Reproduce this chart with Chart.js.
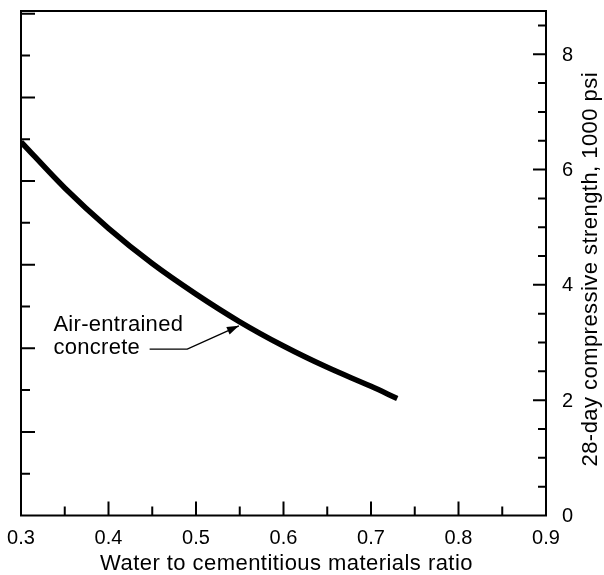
<!DOCTYPE html>
<html>
<head>
<meta charset="utf-8">
<script src="https://cdn.jsdelivr.net/npm/chart.js@4.4.1/dist/chart.umd.min.js"></script>
<style>
  html, body { margin: 0; padding: 0; background: #fff; }
  #wrap { width: 604px; height: 575px; }
</style>
</head>
<body>
<div id="wrap"><canvas id="chart"></canvas></div>
<script>
// curve (1000 psi)
const ratios = [0.30, 0.35, 0.40, 0.45, 0.50, 0.55, 0.60, 0.65, 0.70, 0.73];
const strength = [6.48, 5.68, 4.98, 4.37, 3.84, 3.36, 2.94, 2.57, 2.24, 2.03];

const xTicks = [0.3, 0.4, 0.5, 0.6, 0.7, 0.8, 0.9];
const yTicks = [0, 2, 4, 6, 8];

const xTitle = "Water to cementitious materials ratio";
const yTitle = "28-day compressive strength, 1000 psi";
const labelLines = ["Air-entrained", "concrete"];
// label anchor and leader line, in data units
const labelAt = [0.337, 3.30];
const leader = [[0.447, 2.885], [0.490, 2.885], [0.549, 3.29]];

const PSI_PER_MPA = 1 / 6.895;
const FONT = '"Liberation Sans", Arial, Helvetica, sans-serif';

const noPad = s => { s.paddingTop = 0; s.paddingBottom = 0; s.paddingLeft = 0; s.paddingRight = 0; };

const extras = {
  id: "extras",
  afterDraw(chart) {
    const { ctx, chartArea: a } = chart;
    const x = chart.scales.x, y = chart.scales.y;
    ctx.save();
    ctx.strokeStyle = "#000";
    ctx.fillStyle = "#000";
    ctx.lineWidth = 2;
    ctx.strokeRect(a.left, a.top, a.right - a.left, a.bottom - a.top);

    ctx.beginPath();
    // bottom ticks, every 0.05
    for (let i = 1; i < 12; i++) {
      const px = x.getPixelForValue(0.3 + i * 0.05);
      const len = i % 2 ? 9 : 14;
      ctx.moveTo(px, a.bottom);
      ctx.lineTo(px, a.bottom - len);
    }
    // right ticks, every 0.5
    for (let i = 1; i * 0.5 <= y.max; i++) {
      const py = y.getPixelForValue(i * 0.5);
      const len = i % 4 === 0 ? 13 : 8;
      ctx.moveTo(a.right, py);
      ctx.lineTo(a.right - len, py);
    }
    // left ticks in MPa, every 5
    for (let m = 5; m * PSI_PER_MPA <= y.max; m += 5) {
      const py = y.getPixelForValue(m * PSI_PER_MPA);
      const len = m % 10 === 0 ? 14 : 9;
      ctx.moveTo(a.left, py);
      ctx.lineTo(a.left + len, py);
    }
    ctx.stroke();

    // right tick labels
    ctx.font = "20px " + FONT;
    ctx.textAlign = "left";
    ctx.textBaseline = "middle";
    yTicks.forEach(v => ctx.fillText(String(v), a.right + 16, y.getPixelForValue(v) + 1));

    // label + leader
    ctx.font = "22px " + FONT;
    ctx.letterSpacing = "0.3px";
    const lx = x.getPixelForValue(labelAt[0]);
    const ly = y.getPixelForValue(labelAt[1]);
    labelLines.forEach((t, i) => ctx.fillText(t, lx, ly + i * 23));

    const pts = leader.map(p => [x.getPixelForValue(p[0]), y.getPixelForValue(p[1])]);
    ctx.lineWidth = 1.4;
    ctx.beginPath();
    ctx.moveTo(pts[0][0], pts[0][1]);
    for (let i = 1; i < pts.length; i++) ctx.lineTo(pts[i][0], pts[i][1]);
    ctx.stroke();
    const [tx, ty] = pts[pts.length - 1];
    const [fx, fy] = pts[pts.length - 2];
    const ang = Math.atan2(ty - fy, tx - fx);
    ctx.beginPath();
    ctx.moveTo(tx, ty);
    ctx.lineTo(tx - 12 * Math.cos(ang) + 4 * Math.sin(ang), ty - 12 * Math.sin(ang) - 4 * Math.cos(ang));
    ctx.lineTo(tx - 12 * Math.cos(ang) - 4 * Math.sin(ang), ty - 12 * Math.sin(ang) + 4 * Math.cos(ang));
    ctx.closePath();
    ctx.fill();

    // axis titles
    ctx.font = "22px " + FONT;
    ctx.letterSpacing = "0.45px";
    ctx.textAlign = "center";
    ctx.fillText(xTitle, (a.left + a.right) / 2 + 3, 564);
    ctx.translate(chart.width - 13, (a.top + a.bottom) / 2 + 6);
    ctx.rotate(-Math.PI / 2);
    ctx.fillText(yTitle, 0, 0);
    ctx.restore();
  }
};

new Chart(document.getElementById("chart"), {
  type: "line",
  data: {
    datasets: [{
      data: ratios.map((r, i) => ({ x: r, y: strength[i] })),
      borderColor: "#000",
      borderWidth: 5.5,
      pointRadius: 0,
      cubicInterpolationMode: "monotone",
      borderCapStyle: "butt"
    }]
  },
  options: {
    responsive: true,
    maintainAspectRatio: false,
    animation: false,
    layout: { padding: { top: 11, left: 21, right: 0, bottom: 0 } },
    plugins: { legend: { display: false }, tooltip: { enabled: false } },
    scales: {
      x: {
        type: "linear",
        position: "bottom",
        min: 0.3,
        max: 0.9,
        grid: { display: false, drawTicks: false },
        border: { display: false },
        afterBuildTicks: s => { s.ticks = xTicks.map(v => ({ value: v })); },
        ticks: {
          autoSkip: false,
          maxRotation: 0,
          padding: 11,
          color: "#000",
          font: { family: FONT, size: 20 },
          callback: v => v.toFixed(1)
        },
        afterFit: s => { s.height = 59.5; noPad(s); }
      },
      y: {
        position: "right",
        min: 0,
        max: 8.75,
        grid: { display: false, drawTicks: false },
        border: { display: false },
        afterBuildTicks: s => { s.ticks = yTicks.map(v => ({ value: v })); },
        ticks: { display: false },
        afterFit: s => { s.width = 58; noPad(s); }
      }
    }
  },
  plugins: [extras]
});
</script>
</body>
</html>
